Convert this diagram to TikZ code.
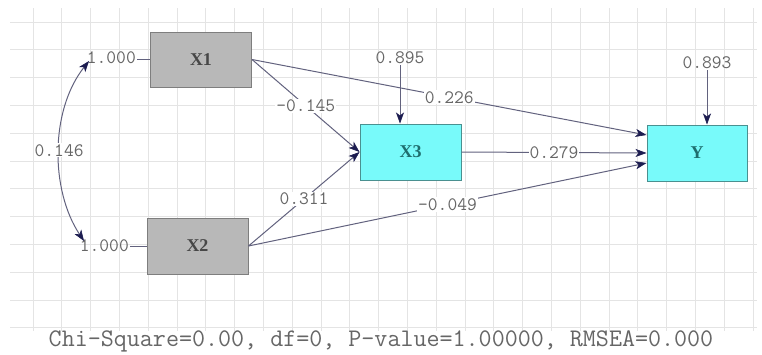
\documentclass[tikz,border=0pt]{standalone}
\usepackage{fontspec}
\setmainfont{Liberation Serif}
\usetikzlibrary{arrows.meta,calc}
\definecolor{gridc}{HTML}{E4E4E4}
\definecolor{linec}{HTML}{62627E}
\definecolor{tipc}{HTML}{1C1C50}
\definecolor{labc}{HTML}{666666}
\definecolor{grayfill}{HTML}{B8B8B8}
\definecolor{grayedge}{HTML}{7E7E7E}
\definecolor{cyanfill}{HTML}{78FAFA}
\definecolor{cyanedge}{HTML}{4A9090}
\definecolor{cyantext}{HTML}{1E6E6E}
\tikzset{
  obsgray/.style={draw=grayedge, line width=1pt, fill=grayfill, minimum width=101pt, minimum height=55pt, inner sep=0pt, font=\bfseries\fontsize{18}{18}\selectfont, text=black!72},
  obscyan/.style={draw=cyanedge, line width=1pt, fill=cyanfill, minimum width=101pt, minimum height=56pt, inner sep=0pt, font=\bfseries\fontsize{18}{18}\selectfont, text=cyantext},
  pathlab/.style={fill=white, inner sep=1pt, font=\ttfamily\fontsize{19}{19}\selectfont, text=labc},
  freelab/.style={inner sep=1pt, font=\ttfamily\fontsize{19}{19}\selectfont, text=labc},
  conn/.style={draw=linec, line width=1pt, -{Stealth[length=11pt,width=8pt,inset=3pt,fill=tipc,color=tipc,line width=0.6pt]}},
  dconn/.style={draw=linec, line width=1pt, {Stealth[length=11pt,width=8pt,inset=3pt,fill=tipc,color=tipc,line width=0.6pt]}-{Stealth[length=11pt,width=8pt,inset=3pt,fill=tipc,color=tipc,line width=0.6pt]}},
  plain/.style={draw=linec, line width=1pt}
}
\begin{document}
\begin{tikzpicture}[x=1pt,y=-1pt]
\useasboundingbox (0,0) rectangle (762,354);
\fill[white] (0,0) rectangle (762,354);
% grid
\begin{scope}
\clip (10,8) rectangle (757,331);
\foreach \i in {0,...,25} {
  \draw[gridc, line width=0.8pt] ({33+28.8*\i},8) -- ({33+28.8*\i},331);
}
\foreach \j in {0,...,11} {
  \draw[gridc, line width=0.8pt] (10,{22+27.8*\j}) -- (757,{22+27.8*\j});
}
\end{scope}
% nodes
\node[obsgray] (X1) at (201,59.5) {X1};
\node[obsgray, minimum height=56pt] (X2) at (197.5,246) {X2};
\node[obscyan] (X3) at (410.5,152) {X3};
\node[obscyan, minimum width=100pt] (Y) at (697,153) {Y};
% variance labels
\node[freelab, anchor=east] (v1) at (137,58) {1.000};
\node[freelab, anchor=east] (v2) at (130,246) {1.000};
\draw[plain] (v1.east |- X1.west) -- (X1.west);
\draw[plain] (v2.east) -- (X2.west);
% covariance curve
\coordinate (c1) at (89,61);
\coordinate (c2) at (84,241);
\draw[dconn] (c1) .. controls (50,110) and (50,190) .. (c2)
  node[pathlab, pos=0.5] (cov) {0.146};
% coordinates on Y
\coordinate (Yin1) at ([yshift=18pt]Y.west);
\coordinate (Yin3) at ([yshift=-10pt]Y.west);
% paths
\draw[conn] (X1.east) -- (X3.west) node[pathlab, midway] (p13) {-0.145};
\draw[conn] (X2.east) -- (X3.west) node[pathlab, midway] (p23) {0.311};
\draw[conn] (X1.east) -- (Yin1) node[pathlab, midway] (p1y) {0.226};
\draw[conn] (X3.east) -- (Y.west) node[pathlab, midway] (p3y) {0.279};
\draw[conn] (X2.east) -- (Yin3) node[pathlab, midway] (p2y) {-0.049};
% error terms
\node[freelab] (e3) at (400,58) {0.895};
\node[freelab] (e4) at (707,63) {0.893};
\draw[conn] (e3.south) -- (e3.south |- X3.north);
\draw[conn] (e4.south) -- (e4.south |- Y.north);
% fit statistics
\node[inner sep=0pt, font=\ttfamily\fontsize{25.3}{25.3}\selectfont, text=labc] (fit) at (381,341) {Chi-Square=0.00, df=0, P-value=1.00000, RMSEA=0.000};
\end{tikzpicture}
\end{document}
